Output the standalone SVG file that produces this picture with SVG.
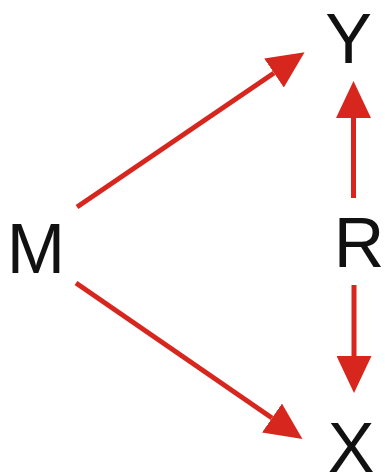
<svg xmlns="http://www.w3.org/2000/svg" width="385" height="473" viewBox="0 0 385 473">
<style>
.lbl{font-family:"Liberation Sans",Arial,sans-serif;font-size:70px;fill:#111;text-anchor:middle}
.edge{stroke:#d7261e;stroke-width:5;fill:none;marker-end:url(#ah)}
</style>
<defs>
<marker id="ah" markerUnits="userSpaceOnUse" viewBox="0 0 37 35" markerWidth="37" markerHeight="35" refX="0" refY="17.5" orient="auto">
<path d="M0,0 L37,17.5 L0,35 Z" fill="#d7261e"/>
</marker>
</defs>
<rect width="385" height="473" fill="#fff"/>
<g id="connectors">
<line class="edge" x1="77" y1="207" x2="274" y2="73"/>
<line class="edge" x1="76" y1="283" x2="272" y2="418"/>
<line class="edge" x1="353.5" y1="198" x2="353.5" y2="118"/>
<line class="edge" x1="354" y1="285" x2="354" y2="356"/>
</g>
<g id="node-Y"><text class="lbl" x="348.5" y="63">Y</text></g>
<g id="node-M"><text class="lbl" x="36" y="273">M</text></g>
<g id="node-R"><text class="lbl" x="359" y="267">R</text></g>
<g id="node-X"><text class="lbl" x="351" y="472">X</text></g>
</svg>
